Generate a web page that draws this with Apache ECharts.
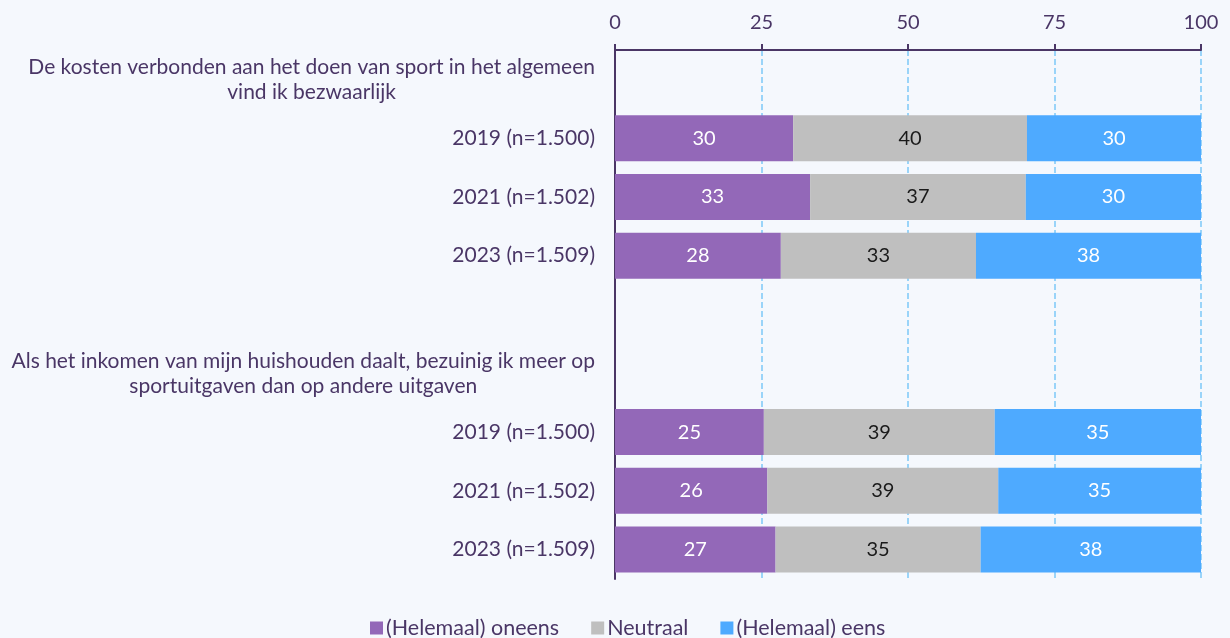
<!DOCTYPE html>
<html>
<head>
<meta charset="utf-8">
<script src="https://cdn.jsdelivr.net/npm/echarts@6/dist/echarts.min.js"></script>
<style>
  html, body { margin: 0; padding: 0; background: #f5f8fd; }
  #chart { width: 1230px; height: 638px; }
</style>
</head>
<body>
<div id="chart"></div>
<script>
// categories (headers and empty row have no bars)
const categories = [
  'De kosten verbonden aan het doen van sport in het algemeen\nvind ik bezwaarlijk',
  '2019 (n=1.500)',
  '2021 (n=1.502)',
  '2023 (n=1.509)',
  '',
  'Als het inkomen van mijn huishouden daalt, bezuinig ik meer op\nsportuitgaven dan op andere uitgaven',
  '2019 (n=1.500)',
  '2021 (n=1.502)',
  '2023 (n=1.509)'
];
const seriesNames = ['(Helemaal) oneens', 'Neutraal', '(Helemaal) eens'];
const oneens = [null, 30.4, 33.3, 28.3, null, null, 25.4, 26.0, 27.4];
const neutraal = [null, 39.9, 36.8, 33.3, null, null, 39.4, 39.4, 35.0];
const eens = [null, 29.7, 29.9, 38.4, null, null, 35.2, 34.6, 37.6];
const xTicks = [0, 25, 50, 75, 100];

const textColor = '#4a3666';
const colors = ['#9368b8', '#bfbfbf', '#4eaaff'];
const labelColors = ['#ffffff', '#1a1a1a', '#ffffff'];

const chart = echarts.init(document.getElementById('chart'));

function makeSeries(name, data, idx) {
  return {
    name: name,
    type: 'bar',
    stack: 'total',
    barWidth: 46,
    itemStyle: { color: colors[idx] },
    label: {
      show: true,
      position: 'inside',
      color: labelColors[idx],
      fontFamily: 'Lato',
      fontSize: 20,
      formatter: p => Math.round(p.value)
    },
    data: data
  };
}

chart.setOption({
  backgroundColor: '#f5f8fd',
  textStyle: { fontFamily: 'Lato' },
  grid: { left: 615, right: 29, top: 50, bottom: 59 },
  legend: {
    bottom: -6,
    left: 365,
    icon: 'rect',
    itemWidth: 13,
    itemHeight: 13,
    itemGap: 32,
    textStyle: { color: textColor, fontSize: 21.5, fontFamily: 'Lato', padding: [0, 0, 0, -2] },
    data: seriesNames
  },
  xAxis: {
    type: 'value',
    position: 'top',
    min: 0,
    max: 100,
    interval: 25,
    axisLine: { show: true, lineStyle: { color: textColor, width: 2 } },
    axisTick: { show: true, length: 6, lineStyle: { color: textColor, width: 2 } },
    axisLabel: {
      color: textColor,
      fontSize: 20,
      margin: 17,
      formatter: v => (xTicks.indexOf(v) >= 0 ? v : '')
    },
    splitLine: { show: true, lineStyle: { color: '#7cc8f8', type: 'dashed', width: 1.5 } }
  },
  yAxis: {
    type: 'category',
    inverse: true,
    data: categories,
    axisLine: { show: true, lineStyle: { color: textColor, width: 2 } },
    axisTick: { show: false },
    axisLabel: {
      color: textColor,
      fontSize: 21,
      margin: 20,
      align: 'right',
      lineHeight: 25,
      formatter: function (v) {
        if (v.indexOf('\n') >= 0) {
          return v.split('\n').map(s => '{h|' + s + '}').join('\n');
        }
        return v;
      },
      rich: {
        h: { align: 'center', fontSize: 21, color: textColor, lineHeight: 25, fontFamily: 'Lato' }
      }
    }
  },
  series: [
    makeSeries(seriesNames[0], oneens, 0),
    makeSeries(seriesNames[1], neutraal, 1),
    makeSeries(seriesNames[2], eens, 2)
  ]
});
</script>
</body>
</html>
